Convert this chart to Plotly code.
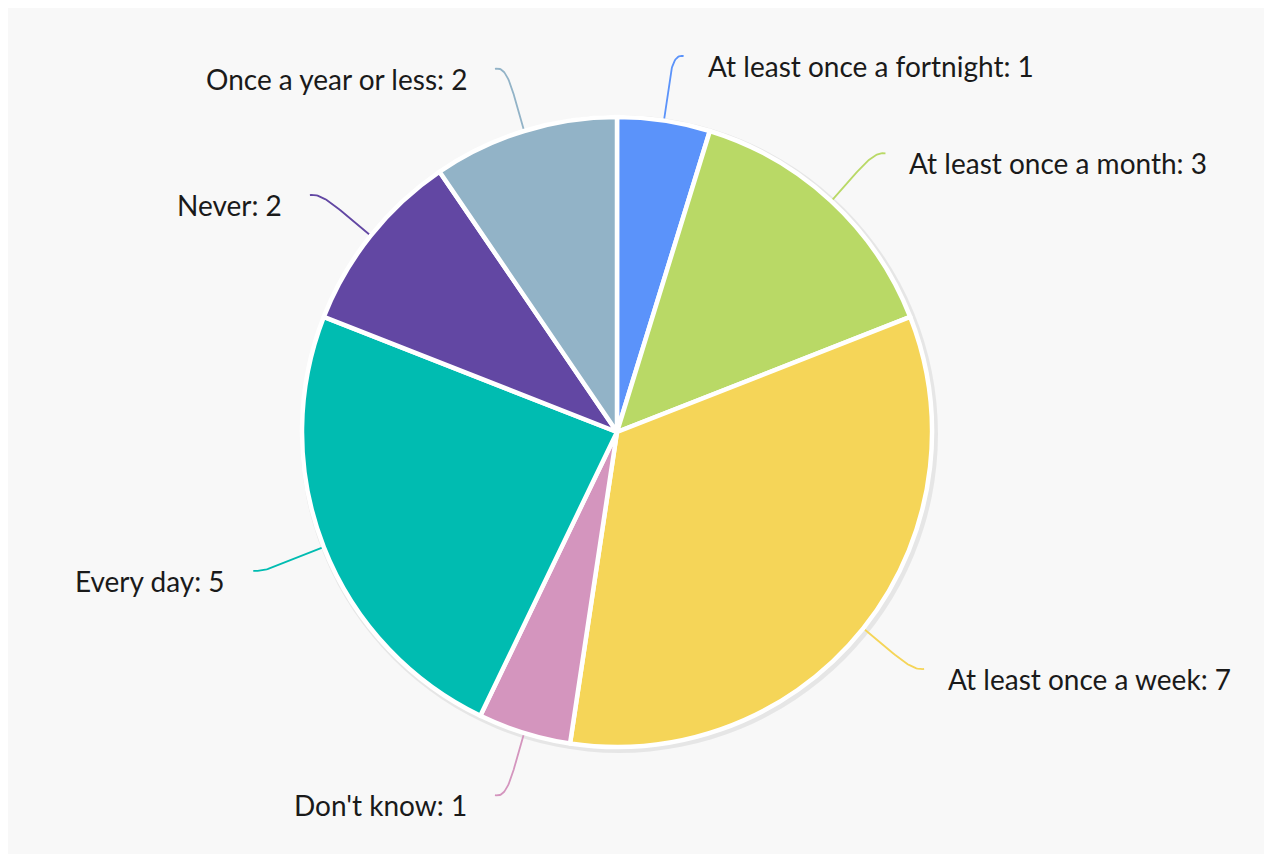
import math
import plotly.graph_objects as go

labels = ["At least once a fortnight", "At least once a month", "At least once a week",
          "Don't know", "Every day", "Never", "Once a year or less"]
values = [1, 3, 7, 1, 5, 2, 2]
colors = ["#5b93fa", "#b9d966", "#f5d558", "#d495be", "#00bcb1", "#6247a3", "#92b3c7"]

W, H = 1272, 854
OFF = 8  # page body margin
CX, CY, R = 617 - OFF, 432 - OFF, 315
BG = "#f8f8f8"

fig = go.Figure()

fig.add_trace(go.Pie(
    labels=labels, values=values, sort=False, direction="clockwise", rotation=0,
    marker=dict(colors=colors, line=dict(color="white", width=4.5)),
    textinfo="none", hoverinfo="label+value", showlegend=False,
    domain=dict(x=[(CX - R) / W, (CX + R) / W], y=[(H - CY - R) / H, (H - CY + R) / H]),
))

total = sum(values)
cum = 0
annotations = []
for lab, v, col in zip(labels, values, colors):
    mid = (cum + v / 2) / total * 2 * math.pi
    cum += v
    sx, sy = math.sin(mid), -math.cos(mid)
    side = 1 if sx >= 0 else -1
    p0 = (CX + (R + 1) * sx, CY + (R + 1) * sy)
    p3 = (CX + 380 * sx + 10 * side, CY + 380 * sy)
    p1 = (p0[0] + 36 * sx, p0[1] + 36 * sy)
    p2 = (p3[0] - 14 * side, p3[1] + 4 * sy)
    xs, ys = [], []
    for i in range(41):
        t = i / 40
        a, b, c, d = (1 - t) ** 3, 3 * (1 - t) ** 2 * t, 3 * (1 - t) * t ** 2, t ** 3
        xs.append(a * p0[0] + b * p1[0] + c * p2[0] + d * p3[0])
        ys.append(a * p0[1] + b * p1[1] + c * p2[1] + d * p3[1])
    fig.add_trace(go.Scatter(x=xs, y=ys, mode="lines", line=dict(color=col, width=1.8),
                             hoverinfo="skip", showlegend=False))
    annotations.append(dict(
        x=p3[0] + (22 if side > 0 else -26), y=p3[1] + 10, xref="x", yref="y",
        text=f"{lab}: {v}", showarrow=False,
        xanchor="left" if side > 0 else "right", yanchor="middle",
        font=dict(family="Lato, 'Noto Sans', sans-serif", size=28, color="#1a1a1a"),
    ))

fig.update_layout(
    width=W, height=H, margin=dict(l=0, r=0, t=0, b=0),
    paper_bgcolor=BG, plot_bgcolor="rgba(0,0,0,0)",
    xaxis=dict(range=[0, W], visible=False, fixedrange=True, domain=[0, 1]),
    yaxis=dict(range=[H, 0], visible=False, fixedrange=True, domain=[0, 1]),
    annotations=annotations,
    shapes=[dict(type="circle", xref="x", yref="y", layer="below",
                 x0=CX - R - 4 + 2, x1=CX + R + 4 + 2, y0=CY - R - 4 + 2, y1=CY + R + 4 + 2,
                 fillcolor="rgba(0,0,0,0.07)", line=dict(width=0))],
)

fig.write_html("out.html")
